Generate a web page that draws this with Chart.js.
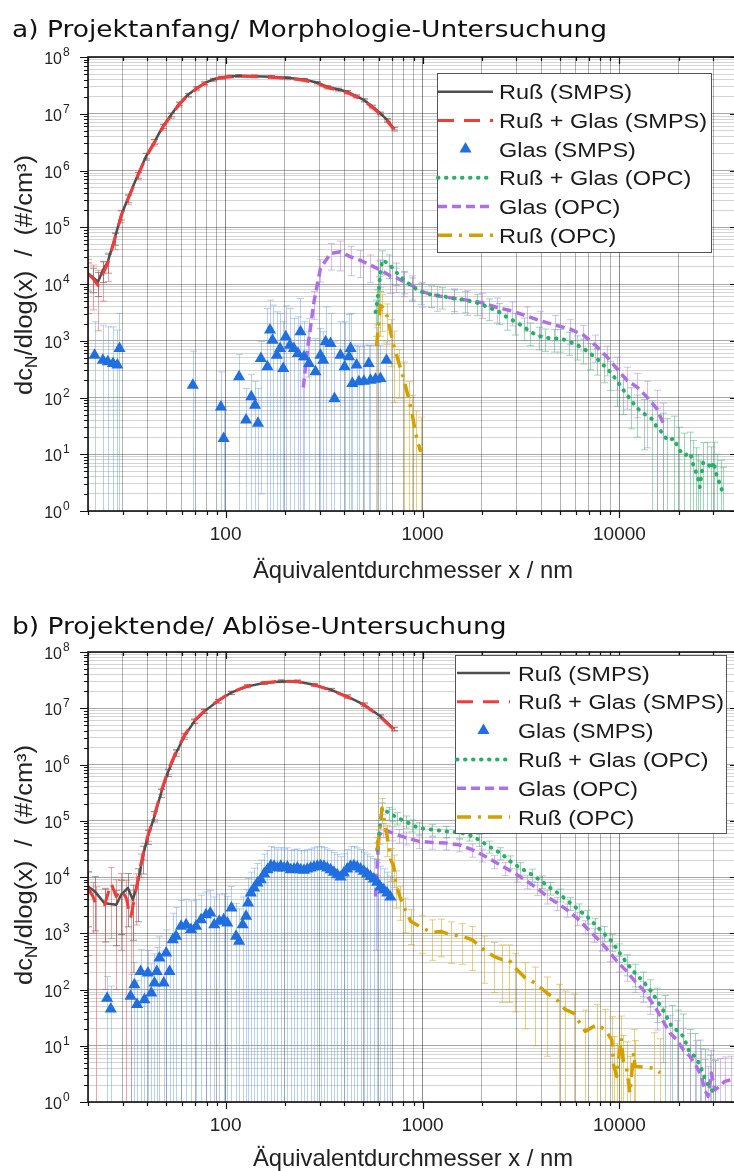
<!DOCTYPE html>
<html><head><meta charset="utf-8">
<script src="https://cdn.jsdelivr.net/npm/chart.js@4/dist/chart.umd.min.js"></script>
<style>
html,body{margin:0;padding:0;background:#fff;overflow:hidden;width:734px;height:1171px;position:relative;}
canvas{display:block;position:absolute;left:0;}
#ca{top:0;width:750px;height:590px;}
#cb{top:590px;width:750px;height:581px;}
</style></head><body>
<canvas id="ca" width="750" height="590"></canvas>
<canvas id="cb" width="750" height="581"></canvas>
<script>
// ================= DATA =================
const titleA = 'a) Projektanfang/ Morphologie-Untersuchung';
const titleB = 'b) Projektende/ Ablöse-Untersuchung';
const xAxisTitle = 'Äquivalentdurchmesser x / nm';
const legendLabels = ['Ruß (SMPS)', 'Ruß + Glas (SMPS)', 'Glas (SMPS)', 'Ruß + Glas (OPC)', 'Glas (OPC)', 'Ruß (OPC)'];
const xTickLabels = ['100', '1000', '10000'];
const yTickExponents = [0, 1, 2, 3, 4, 5, 6, 7, 8];

// ---- Panel a ----
const aSmpsX = [20, 21.2, 22.5, 23.8, 25.2, 27.3, 29.5, 31.9, 35.8, 39.5, 43.5, 48, 52.8, 58, 64.2, 71, 78, 86, 94.6, 105, 115, 140, 169, 205, 250, 290, 328, 370, 414, 460, 503, 555, 611, 660, 714];
const aRussSmpsY = [1.55e4, 1.3e4, 1.1e4, 1.76e4, 2.45e4, 6.3e4, 1.64e5, 3.2e5, 8.3e5, 1.8e6, 3.2e6, 6.0e6, 9.5e6, 1.5e7, 2.15e7, 2.8e7, 3.45e7, 4.0e7, 4.35e7, 4.55e7, 4.65e7, 4.6e7, 4.5e7, 4.3e7, 4.0e7, 3.55e7, 3.0e7, 2.7e7, 2.45e7, 2.05e7, 1.75e7, 1.35e7, 1.02e7, 7.8e6, 5.5e6];
const aRussSmpsErr = [8000, 6000, 5000, 7000, 9000, 1.5e4, 3e4, 5e4, 1e5, 2e5, 3e5, 5e5, 7e5, 1e6, 1.3e6, 1.6e6, 1.8e6, 2e6, 2e6, 2e6, 2e6, 2e6, 2e6, 1.9e6, 1.8e6, 1.6e6, 1.4e6, 1.3e6, 1.2e6, 1e6, 9e5, 7e5, 5e5, 4e5, 3e5];
const aMixSmpsY = [1.5e4, 1.25e4, 9.5e3, 1.5e4, 2.3e4, 6.0e4, 1.6e5, 3.1e5, 8.0e5, 1.75e6, 3.1e6, 5.8e6, 9.2e6, 1.45e7, 2.1e7, 2.75e7, 3.4e7, 3.95e7, 4.3e7, 4.5e7, 4.6e7, 4.55e7, 4.4e7, 4.2e7, 3.9e7, 3.4e7, 2.9e7, 2.6e7, 2.35e7, 2.0e7, 1.7e7, 1.3e7, 9.8e6, 7.5e6, 5.3e6];
const aMixSmpsErr = [1.2e4, 9000, 8000, 1e4, 1.2e4, 2e4, 4e4, 6e4, 1.2e5, 2.5e5, 4e5, 7e5, 1e6, 1.4e6, 1.8e6, 2.2e6, 2.5e6, 2.7e6, 2.8e6, 2.8e6, 2.8e6, 2.7e6, 2.6e6, 2.5e6, 2.3e6, 2e6, 1.8e6, 1.6e6, 1.4e6, 1.2e6, 1e6, 8e5, 6e5, 5e5, 4e5];
const aGlasSmpsX = [21.6, 23.8, 25.2, 26.8, 28.2, 28.9, 68.1, 94.6, 97.7, 117, 127, 135, 141, 146, 151, 163, 168, 173, 182, 189, 196, 202, 212, 222, 233, 240, 250, 265, 286, 303, 313, 322, 341, 357, 383, 402, 423, 431, 440, 462, 475, 504, 533, 544, 577, 611, 656];
const aGlasSmpsY = [557, 455, 426, 398, 372, 731, 165, 68, 18.9, 231, 40, 103, 73, 35, 486, 347, 1540, 1023, 557, 731, 324, 1174, 837, 731, 596, 1438, 521, 398, 283, 557, 455, 957, 895, 96, 557, 347, 521, 731, 176, 372, 189, 194, 398, 202, 210, 216, 455];
const aGlasSmpsErr = [1600, 1425, 1330, 1360, 1170, 2300, 490, 215, 50, 340, 104, 150, 120, 110, 484, 3350, 3660, 3230, 2680, 2300, 1840, 2950, 2860, 1740, 2040, 4120, 1640, 2070, 820, 1090, 985, 3010, 2140, 860, 1600, 1810, 2380, 2300, 660, 465, 593, 643, 439, 620, 627, 621, 500];
const aMixOpcX = [577, 589, 600, 611, 625, 676, 731, 806, 888, 978, 1099, 1259, 1443, 1652, 1893, 2171, 2439, 2687, 2963, 3266, 3527, 3890, 4200, 4630, 5010, 5520, 6085, 6566, 7100, 7680, 8300, 8975, 9690, 10400, 11500, 12300, 13300, 14600, 15500, 16700, 17500, 18900, 20100, 21300, 22900, 23700, 24400, 25100, 25600, 26600, 27900, 29300, 30100, 31300, 32600, 33700];
const aMixOpcY = [3.2e3, 4.9e3, 8.4e3, 1.64e4, 2.64e4, 2.25e4, 1.64e4, 1.17e4, 9.0e3, 7.3e3, 6.55e3, 6.12e3, 5.57e3, 5.2e3, 4.67e3, 3.86e3, 3.24e3, 2.58e3, 2.16e3, 1.76e3, 1.44e3, 1.21e3, 1.13e3, 1.1e3, 1.1e3, 984, 838, 731, 597, 488, 372, 283, 200, 140, 88, 65, 52, 42, 30, 23, 17.5, 18.9, 12, 9.5, 10.5, 6.5, 5.0, 3.7, 2.65, 7, 7.2, 5.5, 7.3, 4, 2.8, 1.9];
const aMixOpcErr = [2000, 3000, 5000, 9000, 1.2e4, 1.0e4, 7000, 5000, 3800, 3000, 2700, 2500, 2300, 2100, 1900, 1600, 1300, 1050, 900, 750, 620, 520, 480, 470, 470, 430, 380, 340, 290, 240, 190, 150, 130, 90, 60, 45, 40, 45, 35, 30, 25, 28, 18, 14, 14, 11, 8, 6, 5, 9, 9, 8, 9, 6, 5, 4];
const aGlasOpcX = [248, 262, 281, 303, 341, 383, 431, 484, 544, 611, 687, 731, 806, 885, 997, 1188, 1443, 1686, 2009, 2393, 2851, 3396, 3963, 4721, 5625, 6566, 7530, 8625, 9690, 10890, 12240, 13750, 15450, 16700];
const aGlasOpcY = [150, 830, 4860, 1.88e4, 3.46e4, 3.7e4, 3.0e4, 2.6e4, 2.15e4, 1.76e4, 1.38e4, 1.3e4, 1.1e4, 9.4e3, 7.3e3, 6.2e3, 5.6e3, 5.2e3, 4.67e3, 3.86e3, 3.33e3, 2.72e3, 2.25e3, 1.89e3, 1.6e3, 1.26e3, 838, 521, 324, 202, 154, 103, 64, 35];
const aGlasOpcErr = [300, 600, 2500, 8000, 1.7e4, 2.0e4, 1.6e4, 1.3e4, 1.1e4, 9000, 7000, 6000, 5000, 4500, 3400, 2900, 2600, 2400, 2200, 1800, 1500, 1250, 1000, 900, 750, 600, 420, 280, 190, 140, 110, 90, 70, 45];
const aRussOpcX = [584, 611, 625, 663, 690, 717, 760, 806, 854, 888, 923, 978];
const aRussOpcY = [800, 4200, 3970, 2650, 1350, 782, 397, 202, 90, 49, 23, 11];
const aRussOpcErr = [900, 3000, 2500, 1800, 1000, 700, 300, 220, 100, 60, 35, 34];

// ---- Panel b ----
const bRussSmpsX = [20, 21.6, 24.3, 27.8, 29.5, 31.9, 33.8, 35.8, 38, 40.3, 43.5, 47, 50.8, 56, 61.7, 69.3, 78, 91, 106, 129, 157, 191, 231, 281, 341, 414, 503, 611, 714];
const bRussSmpsY = [6.8e3, 5.6e3, 3.4e3, 3.2e3, 4.85e3, 6.4e3, 3.95e3, 7.8e3, 2.33e4, 5.3e4, 1.2e5, 3.1e5, 7.1e5, 1.6e6, 3.16e6, 5.85e6, 8.8e6, 1.33e7, 1.87e7, 2.45e7, 2.8e7, 3.0e7, 3.0e7, 2.62e7, 2.14e7, 1.63e7, 1.16e7, 7.2e6, 4.3e6];
const bRussSmpsErr = [5500, 4500, 2700, 2600, 3900, 5100, 3200, 6200, 1.2e4, 1.5e4, 2.5e4, 5e4, 1e5, 2e5, 3.5e5, 5e5, 7e5, 1e6, 1.2e6, 1.4e6, 1.5e6, 1.6e6, 1.6e6, 1.4e6, 1.2e6, 1e6, 8e5, 5e5, 3e5];
const bMixSmpsX = [20, 21.2, 22.0, 24.3, 26.2, 27.8, 29.5, 31.3, 32.9, 33.8, 35.2, 37.2, 38.5, 40.3, 43.5, 47, 50.8, 56, 61.7, 69.3, 78, 91, 106, 129, 157, 191, 231, 281, 341, 414, 503, 611, 714];
const bMixSmpsY = [6.4e3, 4.5e3, 3.2e3, 3.2e3, 7.8e3, 4.5e3, 6.0e3, 4.2e3, 1.86e3, 3.0e3, 6.4e3, 1.77e4, 3.0e4, 5.5e4, 1.25e5, 3.3e5, 7.5e5, 1.7e6, 3.3e6, 6.0e6, 9.0e6, 1.35e7, 1.9e7, 2.5e7, 2.85e7, 3.05e7, 3.0e7, 2.6e7, 2.1e7, 1.6e7, 1.15e7, 7.0e6, 4.2e6];
const bMixSmpsErr = [6000, 3500, 3500, 3100, 7000, 4400, 5500, 4500, 1900, 2800, 5000, 8000, 1.0e4, 1.2e4, 2.0e4, 4e4, 8e4, 1.5e5, 3e5, 5e5, 7e5, 1e6, 1.3e6, 1.5e6, 1.6e6, 1.7e6, 1.7e6, 1.5e6, 1.3e6, 1.1e6, 8e5, 5e5, 3e5];
const bGlasSmpsX = [25, 26.1, 32.9, 34.4, 35.5, 37, 38.7, 40.3, 41.9, 43.5, 44.7, 46.1, 48.5, 49.9, 51.9, 53.9, 56, 59.4, 63, 66.7, 70.8, 75, 79.5, 83.6, 87.5, 92.8, 97.7, 102, 107, 113, 117, 122, 127, 130,
  134.3, 139.6, 145.1, 150.9, 156.9, 163.1, 169.6, 176.3, 183.2, 190.5, 198.1, 205.9, 214.1, 222.6, 231.4, 240.6, 250, 260, 270.3, 281, 292.2, 303.7, 315.7, 328.2, 341.3, 354.7, 368.8, 383.4, 398.6, 414.5, 430.8, 448, 465.7, 484.2, 503.3, 523.3, 544, 565.6, 588, 611.2, 635.5, 660.7, 686.9];
const bGlasSmpsY = [70, 45, 75.5, 122, 54, 210, 66, 196, 86.5, 130, 210, 363, 130, 445, 210, 767, 880, 1330, 1420, 1160, 1330, 1740, 2140, 2290, 1420, 1630, 1740, 1520, 2800, 880, 718, 1420, 2000, 3440,
  5190, 6370, 7820, 8960, 11450, 13490, 15890, 15460, 14440, 15460, 14440, 15040, 13490, 13870, 14440, 13490, 13130, 13870, 14440, 15040, 15460, 15890, 15460, 14440, 13490, 12100, 10990, 9980, 11770, 13870, 15460, 15890, 15040, 13870, 12600, 11450, 10250, 9200, 8030, 6640, 5950, 5190, 4400];
const bGlasSmpsErr = [100, 70, 110, 180, 90, 300, 150, 300, 200, 300, 350, 500, 350, 700, 500, 1500, 2000, 2500, 2600, 2600, 2600, 3000, 3300, 3500, 3000, 3200, 3300, 3000, 4000, 2500, 2000, 3000, 4000, 6000,
  7000, 8000, 9500, 1.1e4, 1.4e4, 1.6e4, 1.9e4, 1.8e4, 1.7e4, 1.8e4, 1.7e4, 1.8e4, 1.6e4, 1.7e4, 1.7e4, 1.6e4, 1.6e4, 1.7e4, 1.7e4, 1.8e4, 1.9e4, 1.9e4, 1.8e4, 1.7e4, 1.6e4, 1.5e4, 1.4e4, 1.3e4, 1.4e4, 1.7e4, 1.9e4, 1.9e4, 1.8e4, 1.7e4, 1.5e4, 1.4e4, 1.3e4, 1.2e4, 1.0e4, 9000, 8000, 7000, 6000];
const bMixOpcX = [589, 623, 675, 703, 743, 822, 888, 960, 1122, 1310, 1531, 1718, 1932, 2171, 2488, 2793, 3140, 3597, 4045, 4457, 5010, 5630, 6200, 6830, 7530, 8300, 9140, 9890, 10900, 12000, 13200, 14300, 15450, 17000, 18400, 19900, 21100, 22800, 24200, 25600, 27100, 28800, 30500];
const bMixOpcY = [3.05e4, 1.68e5, 1.37e5, 1.28e5, 1.12e5, 9.75e4, 8.3e4, 7.4e4, 6.93e4, 6.47e4, 6.2e4, 5.65e4, 4.6e4, 3.5e4, 2.67e4, 1.9e4, 1.44e4, 1.1e4, 8.36e3, 6.37e3, 4.84e3, 3.44e3, 2.62e3, 2.0e3, 1.42e3, 1.01e3, 717, 476, 295, 196, 139, 99, 66, 38, 22, 18, 14.7, 7.4, 6.5, 4.6, 2.67, 1.77, 1.44];
const bMixOpcErr = [1.0e4, 4e4, 3.5e4, 3.2e4, 2.8e4, 2.4e4, 2.0e4, 1.8e4, 1.6e4, 1.5e4, 1.4e4, 1.3e4, 1.1e4, 8500, 6500, 4700, 3600, 2800, 2100, 1600, 1250, 900, 700, 550, 420, 310, 240, 170, 120, 85, 65, 50, 40, 40, 30, 25, 22, 12, 10, 8, 6, 5, 4];
const bGlasOpcX = [577, 600, 630, 703, 760, 822, 960, 1122, 1310, 1531, 1787, 2009, 2301, 2636, 3020, 3396, 3811, 4285, 4816, 5412, 6083, 6700, 7385, 8130, 8970, 9890, 10900, 12000, 13200, 14300, 15450, 16700, 18050, 19500, 21100, 22800, 24600, 26100, 27100, 28200, 29300, 30500, 32300, 34300, 37000];
const bGlasOpcY = [4.5e3, 5.3e4, 7.0e4, 6.1e4, 5.5e4, 5.0e4, 4.3e4, 4.12e4, 4.02e4, 3.75e4, 3.05e4, 2.49e4, 1.9e4, 1.44e4, 1.1e4, 8.36e3, 6.37e3, 4.52e3, 3.44e3, 2.62e3, 1.86e3, 1.32e3, 942, 670, 445, 295, 210, 139, 99, 66, 44, 27, 16.8, 12.8, 8.5, 6.5, 4.3, 2.85, 1.65, 1.26, 3.27, 1.65, 1.9, 2.33, 2.49];
const bGlasOpcErr = [4000, 1.5e4, 2.0e4, 1.7e4, 1.5e4, 1.3e4, 1.1e4, 1.0e4, 1.0e4, 9500, 8000, 6500, 5000, 3800, 2900, 2200, 1700, 1200, 900, 700, 500, 350, 260, 190, 130, 90, 70, 50, 40, 30, 25, 22, 18, 15, 12, 10, 8, 6, 4, 3, 5, 4, 4, 4, 4];
const bRussOpcX = [589, 623, 661, 690, 714, 731, 772, 818, 871, 997, 1122, 1236, 1387, 1589, 1787, 2046, 2301, 2535, 2740, 2963, 3327, 3741, 4285, 4909, 5309, 5848, 6700, 7680, 8450, 9140, 9330, 9690, 10200, 10470, 10900, 11300, 11800, 12000, 14900, 16100];
const bRussOpcY = [3.05e4, 1.68e5, 5.3e4, 2.03e4, 1.55e4, 7.8e3, 4.2e3, 2.62e3, 1.63e3, 1.24e3, 1.03e3, 1.08e3, 942, 880, 767, 509, 388, 339, 339, 240, 160, 130, 86.5, 61.5, 43.7, 38, 18, 23.7, 19.3, 12.8, 4.6, 2.85, 13.7, 5.27, 3.75, 1.44, 7.4, 4.3, 4.0, 3.3];
const bRussOpcErr = [2e4, 8e4, 3e4, 1.2e4, 9e3, 5e3, 2.5e3, 1.6e3, 1.0e3, 800, 700, 700, 650, 600, 550, 380, 300, 280, 280, 200, 140, 120, 80, 62, 50, 45, 25, 30, 25, 20, 10, 8, 20, 10, 8, 5, 12, 8, 13, 10];

// ================= STYLES =================
const FONT = '"Liberation Sans", Arial, sans-serif';
const ST = {
  russSmps: {color:'#4f4f4f', width:2.5, dash:[], cap:'butt', err:'rgba(70,70,70,0.55)'},
  mixSmps:  {color:'#f23b3b', width:3, dash:[16,10], cap:'butt', err:'rgba(240,70,70,0.5)'},
  glasSmps: {color:'#1f6fe0', err:'rgba(95,150,235,0.45)'},
  mixOpc:   {color:'#25b266', width:4, dash:[0.5,7.5], cap:'round', err:'rgba(60,180,110,0.5)'},
  glasOpc:  {color:'#b06eea', width:3.5, dash:[9,5], cap:'butt', err:'rgba(180,125,235,0.5)'},
  russOpc:  {color:'#d4a000', width:3.5, dash:[14,7,3,7], cap:'butt', err:'rgba(215,165,20,0.55)'}
};
const LEG_ORDER = ['russSmps','mixSmps','glasSmps','mixOpc','glasOpc','russOpc'];

function pts(xs, ys){ return xs.map((x,i)=>({x:x, y:ys[i]})); }
function lineDs(label, xs, ys, errs, st, order){
  return {label, data:pts(xs,ys), err:errs, errColor:st.err, showLine:true, borderColor:st.color,
    backgroundColor:st.color, borderWidth:st.width, borderDash:st.dash, borderCapStyle:st.cap,
    borderJoinStyle:'round', pointRadius:0, pointHoverRadius:0, fill:false, order:order, clip:0, tension:0};
}
function triDs(label, xs, ys, errs, st, order){
  return {label, data:pts(xs,ys), err:errs, errColor:st.err, showLine:false, pointStyle:'triangle',
    pointRadius:7, pointHoverRadius:7, backgroundColor:st.color, borderColor:st.color, borderWidth:0, order:order, clip:0};
}
function isDecade(v){ const l=Math.log10(v); return Math.abs(l-Math.round(l))<1e-9; }
function logTicks(lo, hi){ const out=[]; for(let e=0;e<=9;e++){ for(let m=1;m<=9;m++){ const v=+(m+'e'+e); if(v>=lo-1e-9 && v<=hi+1e-9) out.push(v);} } return out; }

function txt(ctx, s, x, y, font, sx, align, color){
  ctx.save(); ctx.font=font; ctx.fillStyle=color||'#1a1a1a'; ctx.textBaseline='alphabetic'; ctx.textAlign='left';
  const w=ctx.measureText(s).width*sx; let x0=x; if(align==='center') x0=x-w/2; else if(align==='right') x0=x-w;
  ctx.translate(x0,y); ctx.scale(sx,1); ctx.fillText(s,0,0); ctx.restore(); return w;
}
function sxFor(ctx, s, font, target){ ctx.save(); ctx.font=font; const w=ctx.measureText(s).width; ctx.restore(); return target/w; }

const errPlugin = {
  id:'errbars',
  beforeDatasetsDraw(chart){
    const {ctx, chartArea:a, scales:{x,y}} = chart;
    ctx.save(); ctx.beginPath(); ctx.rect(a.left,a.top,a.right-a.left,a.bottom-a.top); ctx.clip();
    chart.data.datasets.forEach(ds=>{
      if(!ds.err) return;
      ctx.strokeStyle=ds.errColor; ctx.lineWidth=1;
      ds.data.forEach((p,i)=>{
        const e=ds.err[i]; if(e==null) return;
        const px=Math.round(x.getPixelForValue(p.x))+0.5;
        const hi=y.getPixelForValue(p.y+e);
        const lowOk=(p.y-e)>0;
        const lo=lowOk? y.getPixelForValue(p.y-e) : a.bottom+5;
        ctx.beginPath(); ctx.moveTo(px,hi); ctx.lineTo(px,lo);
        ctx.moveTo(px-3.5,hi); ctx.lineTo(px+3.5,hi);
        if(lowOk){ ctx.moveTo(px-3.5,lo); ctx.lineTo(px+3.5,lo); }
        ctx.stroke();
      });
    });
    ctx.restore();
  }
};

const framePlugin = {
  id:'frame',
  afterDraw(chart){
    const P = chart.options.plugins.frame;
    const {ctx, chartArea:a, scales:{x,y}} = chart;
    ctx.save();
    ctx.strokeStyle='#111'; ctx.lineWidth=1.2;
    ctx.beginPath();
    x.ticks.forEach(t=>{ const px=Math.round(x.getPixelForValue(t.value))+0.5; const L=isDecade(t.value)?7:4;
      ctx.moveTo(px,a.bottom); ctx.lineTo(px,a.bottom+L); ctx.moveTo(px,a.top); ctx.lineTo(px,a.top+L); });
    y.ticks.forEach(t=>{ const py=Math.round(y.getPixelForValue(t.value))+0.5; const L=isDecade(t.value)?8:4;
      ctx.moveTo(a.left-L,py); ctx.lineTo(a.left,py); ctx.moveTo(a.right-L,py); ctx.lineTo(a.right,py); });
    ctx.stroke();
    ctx.lineWidth=1.6; ctx.strokeRect(a.left,a.top,a.right-a.left,a.bottom-a.top);
    yTickExponents.forEach(e=>{
      const py=y.getPixelForValue(Math.pow(10,e));
      txt(ctx,'10',62,py+7,'16px '+FONT,1,'right','#222');
      txt(ctx,String(e),63,py-1,'12px '+FONT,1,'left','#222');
    });
    const tf='23px "DejaVu Sans", sans-serif';
    const tsx=sxFor(ctx,titleA,tf,595);
    txt(ctx,P.title,12,P.titleY,tf,tsx,'left','#111');
    const xf='24px '+FONT;
    txt(ctx,xAxisTitle,(a.left+a.right)/2,P.xTitleY,xf,sxFor(ctx,xAxisTitle,xf,320),'center','#222');
    const yf='23px '+FONT, yfs='16px '+FONT, rest='/dlog(x)  /  (#/cm³)';
    ctx.save(); ctx.font=yf; const w1=ctx.measureText('dc').width, w3=ctx.measureText(rest).width;
    ctx.font=yfs; const w2=ctx.measureText('N').width;
    const ysx=240/(w1+w2+w3);
    ctx.translate(P.yTitleX,P.yTitleY); ctx.rotate(-Math.PI/2); ctx.scale(ysx,1);
    let cx=-(w1+w2+w3)/2; ctx.fillStyle='#222'; ctx.textBaseline='alphabetic';
    ctx.font=yf; ctx.fillText('dc',cx,0); cx+=w1;
    ctx.font=yfs; ctx.fillText('N',cx,5); cx+=w2;
    ctx.font=yf; ctx.fillText(rest,cx,0);
    ctx.restore();
    const L=P.legend;
    ctx.fillStyle='#fff'; ctx.fillRect(L.x0,L.y0,L.x1-L.x0,L.y1-L.y0);
    ctx.strokeStyle='#555'; ctx.lineWidth=1; ctx.strokeRect(L.x0+0.5,L.y0+0.5,L.x1-L.x0,L.y1-L.y0);
    const lf='20.5px '+FONT;
    const lsx=sxFor(ctx,legendLabels[1],lf,L.w);
    LEG_ORDER.forEach((k,i)=>{
      const st=ST[k]; const ry=L.r0+i*L.dy;
      if(k==='glasSmps'){
        const cxm=(L.s0+L.s1)/2, r=7;
        ctx.fillStyle=st.color; ctx.beginPath();
        ctx.moveTo(cxm,ry-r); ctx.lineTo(cxm+r*0.866,ry+r*0.5); ctx.lineTo(cxm-r*0.866,ry+r*0.5); ctx.closePath(); ctx.fill();
      } else {
        ctx.strokeStyle=st.color; ctx.lineWidth=st.width; ctx.setLineDash(st.dash); ctx.lineCap=st.cap;
        ctx.beginPath(); ctx.moveTo(L.s0,ry); ctx.lineTo(L.s1,ry); ctx.stroke(); ctx.setLineDash([]); ctx.lineCap='butt';
      }
      txt(ctx,legendLabels[i],L.tx,ry+7.5,lf,lsx,'left','#1a1a1a');
    });
    ctx.restore();
  }
};

function gridColX(c){ return isDecade(c.tick.value)? 'rgba(0,0,0,0.45)':'rgba(0,0,0,0.3)'; }
function gridColY(c){ return isDecade(c.tick.value)? 'rgba(0,0,0,0.34)':'rgba(0,0,0,0.17)'; }

function makeChart(id, H, top, bottom, datasets, frameOpts){
  return new Chart(document.getElementById(id), {
    type:'scatter',
    data:{datasets:datasets},
    options:{
      responsive:false, animation:false, devicePixelRatio:1,
      layout:{padding:{top:top, right:10, left:0, bottom:0}},
      plugins:{legend:{display:false}, tooltip:{enabled:false}, frame:frameOpts},
      scales:{
        x:{type:'logarithmic', position:'bottom', min:20, max:40000,
          afterBuildTicks:s=>{ s.ticks=logTicks(20,40000).map(v=>({value:v})); },
          afterFit:s=>{ s.height=H-bottom; },
          grid:{color:gridColX, lineWidth:1, drawTicks:false}, border:{display:false},
          ticks:{autoSkip:false, maxRotation:0, minRotation:0, padding:12, color:'#222',
            font:{family:FONT, size:19},
            callback:(v)=> xTickLabels.includes(String(v)) ? String(v) : ''}
        },
        y:{type:'logarithmic', position:'left', min:1, max:1e8,
          afterBuildTicks:s=>{ s.ticks=logTicks(1,1e8).map(v=>({value:v})); },
          afterFit:s=>{ s.width=88; },
          grid:{color:gridColY, lineWidth:1, drawTicks:false}, border:{display:false},
          ticks:{display:false}
        }
      }
    },
    plugins:[errPlugin, framePlugin]
  });
}

makeChart('ca', 590, 57, 511, [
  lineDs(legendLabels[0], aSmpsX, aRussSmpsY, aRussSmpsErr, ST.russSmps, 10),
  lineDs(legendLabels[1], aSmpsX, aMixSmpsY, aMixSmpsErr, ST.mixSmps, 9),
  triDs(legendLabels[2], aGlasSmpsX, aGlasSmpsY, aGlasSmpsErr, ST.glasSmps, 1),
  lineDs(legendLabels[3], aMixOpcX, aMixOpcY, aMixOpcErr, ST.mixOpc, 6),
  lineDs(legendLabels[4], aGlasOpcX, aGlasOpcY, aGlasOpcErr, ST.glasOpc, 7),
  lineDs(legendLabels[5], aRussOpcX, aRussOpcY, aRussOpcErr, ST.russOpc, 5)
], {title:titleA, titleY:37, xTitleY:578, yTitleX:32, yTitleY:275,
    legend:{x0:437, x1:711, y0:73, y1:252, r0:91.7, dy:28.7, s0:438, s1:493, tx:499, w:208}});

makeChart('cb', 581, 62, 512, [
  lineDs(legendLabels[0], bRussSmpsX, bRussSmpsY, bRussSmpsErr, ST.russSmps, 10),
  lineDs(legendLabels[1], bMixSmpsX, bMixSmpsY, bMixSmpsErr, ST.mixSmps, 9),
  triDs(legendLabels[2], bGlasSmpsX, bGlasSmpsY, bGlasSmpsErr, ST.glasSmps, 1),
  lineDs(legendLabels[3], bMixOpcX, bMixOpcY, bMixOpcErr, ST.mixOpc, 6),
  lineDs(legendLabels[4], bGlasOpcX, bGlasOpcY, bGlasOpcErr, ST.glasOpc, 7),
  lineDs(legendLabels[5], bRussOpcX, bRussOpcY, bRussOpcErr, ST.russOpc, 5)
], {title:titleB, titleY:44, xTitleY:576, yTitleX:32, yTitleY:275,
    legend:{x0:455, x1:726, y0:65, y1:243, r0:83, dy:28.8, s0:457, s1:510, tx:518, w:206}});
</script>
</body></html>
